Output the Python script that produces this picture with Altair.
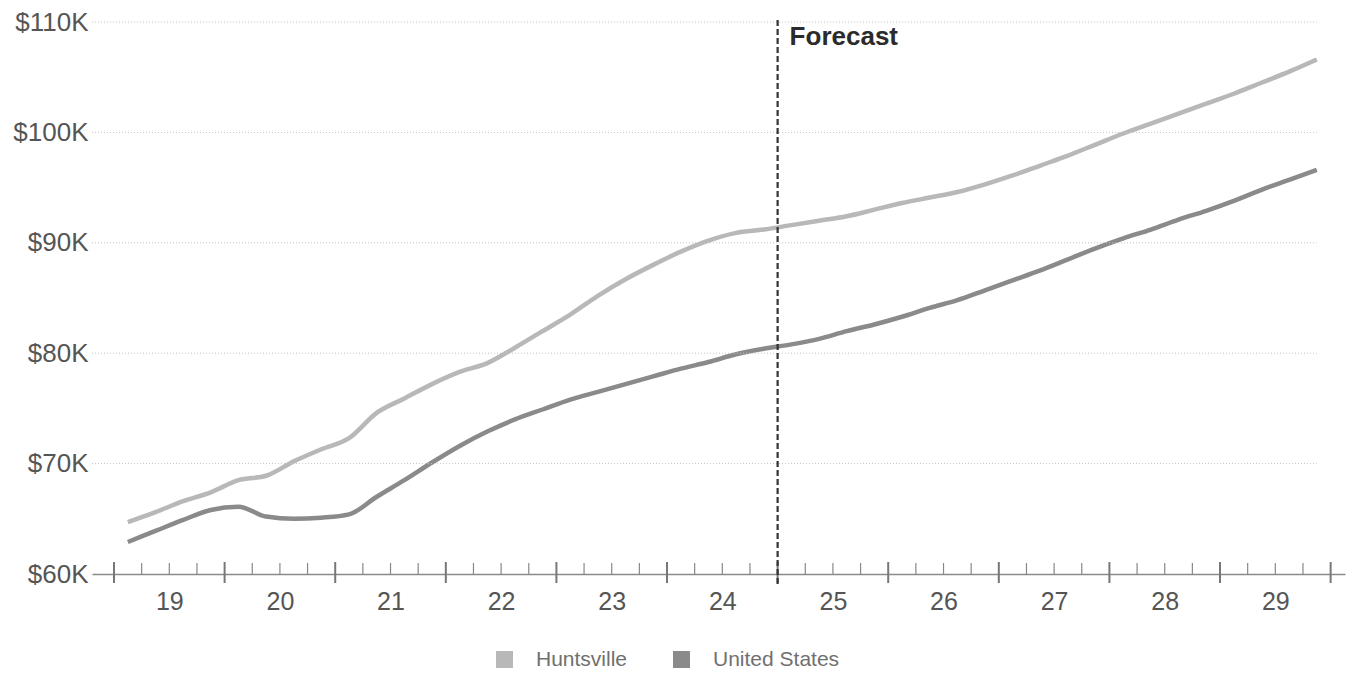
import altair as alt
import pandas as pd

# ---------------- data ----------------
years = list(range(2019, 2030))
quarters = [1, 2, 3, 4]
series_names = ["Huntsville", "United States"]
huntsville = [64.7, 65.6, 66.6, 67.4, 68.5, 68.9, 70.2, 71.3, 72.3, 74.6, 75.9,
              77.2, 78.3, 79.1, 80.5, 82.0, 83.5, 85.2, 86.7, 88.0, 89.2, 90.2,
              90.9, 91.2, 91.6, 92.0, 92.4, 93.0, 93.6, 94.1, 94.6, 95.3, 96.1,
              97.0, 97.9, 98.9, 99.9, 100.8, 101.7, 102.6, 103.5, 104.5, 105.5, 106.6]
united_states = [62.9, 63.9, 64.9, 65.8, 66.1, 65.2, 65.0, 65.1, 65.4, 67.0, 68.5,
                 70.1, 71.6, 72.9, 74.0, 74.9, 75.8, 76.5, 77.2, 77.9, 78.6, 79.2,
                 79.9, 80.4, 80.8, 81.3, 82.0, 82.6, 83.3, 84.1, 84.8, 85.7, 86.6,
                 87.5, 88.5, 89.5, 90.4, 91.2, 92.1, 92.9, 93.8, 94.8, 95.7, 96.6]
y_ticks = [60, 70, 80, 90, 100, 110]
x_labels = ["19", "20", "21", "22", "23", "24", "25", "26", "27", "28", "29"]
forecast_year = 2025
forecast_label = "Forecast"
colors = ["#b8b8b8", "#8a8a8a"]

# ---------------- tables ----------------
periods = [(y, q) for y in years for q in quarters]
rows = []
for name, vals in zip(series_names, [huntsville, united_states]):
    for (y, q), v in zip(periods, vals):
        rows.append({"series": name, "t": y + (q - 0.5) / 4, "value": v})
df = pd.DataFrame(rows)

X_DOMAIN = [2018.801, 2030.13]
xs = alt.Scale(domain=X_DOMAIN, nice=False, zero=False)
ys = alt.Scale(domain=[y_ticks[0], y_ticks[-1]], nice=False, zero=False)

last_t = df["t"].max()
grid_df = pd.DataFrame({"v": y_ticks[1:], "x0": X_DOMAIN[0], "x1": last_t})
major_df = pd.DataFrame({"t": years + [years[-1] + 1]})
minor_df = pd.DataFrame({"t": [y + q / 4 for y in years for q in (1, 2, 3)]})
fc_df = pd.DataFrame({"t": [forecast_year], "text": [forecast_label]})

FONT = "Liberation Sans"
label_expr_x = "[" + ",".join("'%s'" % s for s in x_labels) + "][floor(datum.value) - %d]" % years[0]

lines = alt.Chart(df).mark_line(strokeWidth=4.5, interpolate="monotone").encode(
    x=alt.X("t:Q", scale=xs, title=None,
            axis=alt.Axis(values=[y + 0.5 for y in years],
                          labelExpr=label_expr_x,
                          grid=False, ticks=False,
                          domain=True, domainColor="#8a8a8a", domainWidth=1.5,
                          labelFont=FONT, labelFontSize=25, labelColor="#555555",
                          labelPadding=15)),
    y=alt.Y("value:Q", scale=ys, title=None,
            axis=alt.Axis(values=y_ticks, labelExpr="'$' + datum.value + 'K'",
                          grid=False, ticks=False, domain=False,
                          labelFont=FONT, labelFontSize=26, labelColor="#555555",
                          labelPadding=4)),
    stroke=alt.Stroke("series:N", scale=alt.Scale(domain=series_names, range=colors),
                      legend=alt.Legend(orient="none", legendX=402, legendY=627,
                                        direction="horizontal", title=None,
                                        symbolType="square", symbolSize=1,
                                        symbolStrokeWidth=16, symbolOpacity=1,
                                        labelFont=FONT, labelFontSize=21,
                                        labelColor="#707070", labelOffset=21,
                                        columnPadding=21, padding=0)),
    order="t:Q",
)

grid = alt.Chart(grid_df).mark_rule(color="#c4c4c4", strokeWidth=1, strokeDash=[1, 2]).encode(
    x=alt.X("x0:Q", scale=xs),
    x2="x1:Q",
    y=alt.Y("v:Q", scale=ys),
)

major = alt.Chart(major_df).mark_rule(color="#777777", strokeWidth=2).encode(
    x=alt.X("t:Q", scale=xs),
    y=alt.value(540), y2=alt.value(561),
)
minor = alt.Chart(minor_df).mark_rule(color="#888888", strokeWidth=1.2).encode(
    x=alt.X("t:Q", scale=xs),
    y=alt.value(541), y2=alt.value(552),
)

fc_rule = alt.Chart(fc_df).mark_rule(color="#333333", strokeWidth=2.2, strokeDash=[6, 3]).encode(
    x=alt.X("t:Q", scale=xs),
    y=alt.value(-2), y2=alt.value(563),
)
fc_text = alt.Chart(fc_df).mark_text(align="left", baseline="alphabetic", dx=12,
                                     font=FONT, fontSize=26, fontWeight="bold",
                                     color="#2b2b2b").encode(
    x=alt.X("t:Q", scale=xs),
    y=alt.value(23),
    text="text:N",
)

chart = alt.layer(lines, grid, minor, major, fc_rule, fc_text).properties(
    width=1253, height=552,
    background="white",
    autosize=alt.AutoSizeParams(type="none"),
    padding={"left": 92, "top": 22, "right": 9, "bottom": 105},
).configure_view(stroke=None)

chart.save("out.html", embed_options={"renderer": "svg", "actions": False})
